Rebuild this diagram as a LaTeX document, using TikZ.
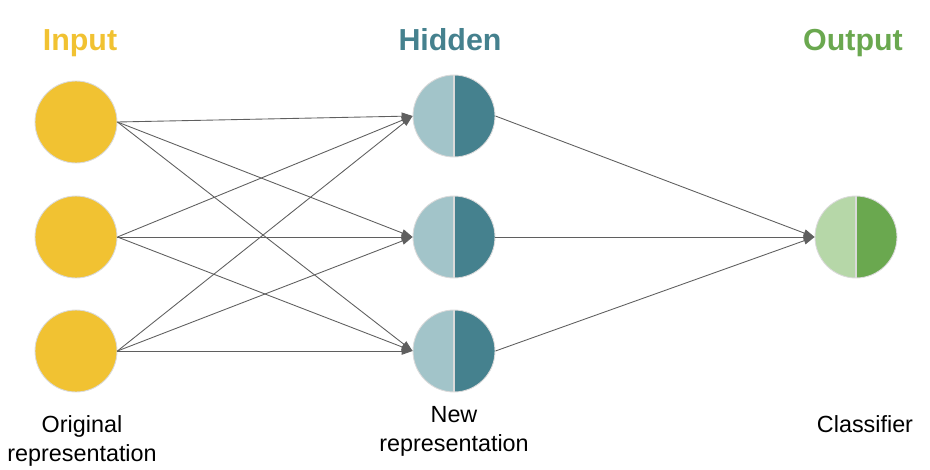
\documentclass[tikz,border=0pt]{standalone}
\usepackage{fontspec}
\setmainfont{Liberation Sans}
\usetikzlibrary{positioning}
\usetikzlibrary{arrows.meta}
\definecolor{inyellow}{HTML}{F1C232}
\definecolor{hidlight}{HTML}{A2C4C9}
\definecolor{hiddark}{HTML}{45818E}
\definecolor{outlight}{HTML}{B6D7A8}
\definecolor{outdark}{HTML}{6AA84F}
\definecolor{wirecol}{HTML}{5F5F5F}
\definecolor{rim}{HTML}{DADADA}
\tikzset{>={Triangle[length=2.2mm,width=1.5mm]}}
\tikzset{wire/.style={->,draw=wirecol,line width=0.5pt}}
\tikzset{neur/.style={draw=rim,circle,minimum size=1.64cm,inner sep=0pt,line width=0.5pt}}
\tikzset{half/.style 2 args={neur,path picture={
  \fill[#1] (path picture bounding box.south west) rectangle (path picture bounding box.north);
  \fill[#2] (path picture bounding box.south) rectangle (path picture bounding box.north east);
  \draw[rim,line width=0.8pt] (path picture bounding box.south) -- (path picture bounding box.north);}}}
\tikzset{title/.style={font=\fontsize{17.3}{20}\selectfont\bfseries,anchor=base}}
\tikzset{captext/.style={font=\fontsize{13.3}{16.5}\selectfont,align=center,anchor=north,inner sep=0pt}}

\begin{document}
\begin{tikzpicture}[x=0.02cm,y=-0.02cm]
\useasboundingbox (0,0) rectangle (930,470);

\node[title,text=inyellow] (tin) at (80,51) {Input};
\node[title,text=hiddark] (thid) at (450,51) {Hidden};
\node[title,text=outdark] (tout) at (853,51) {Output};

\node[neur,fill=inyellow] (i1) at (76,122) {};
\node[neur,fill=inyellow] (i2) at (76,237) {};
\node[neur,fill=inyellow] (i3) at (76,351) {};

\node[half={hidlight}{hiddark}] (h1) at (454,116) {};
\node[half={hidlight}{hiddark}] (h2) at (454,237) {};
\node[half={hidlight}{hiddark}] (h3) at (454,351) {};

\node[half={outlight}{outdark}] (o) at (856,237) {};

\node[captext] (cin) at (82,415) {Original\\representation};
\node[captext] (chid) at (454,406) {New\\representation};
\node[captext] (cout) at (865,415) {Classifier};

\draw[wire] (i1.east) -- (h1.west);
\draw[wire] (i1.east) -- (h2.west);
\draw[wire] (i1.east) -- (h3.west);
\draw[wire] (i2.east) -- (h1.west);
\draw[wire] (i2.east) -- (h2.west);
\draw[wire] (i2.east) -- (h3.west);
\draw[wire] (i3.east) -- (h1.west);
\draw[wire] (i3.east) -- (h2.west);
\draw[wire] (i3.east) -- (h3.west);

\draw[wire] (h1.east) -- (o.west);
\draw[wire] (h2.east) -- (o.west);
\draw[wire] (h3.east) -- (o.west);
\end{tikzpicture}
\end{document}
